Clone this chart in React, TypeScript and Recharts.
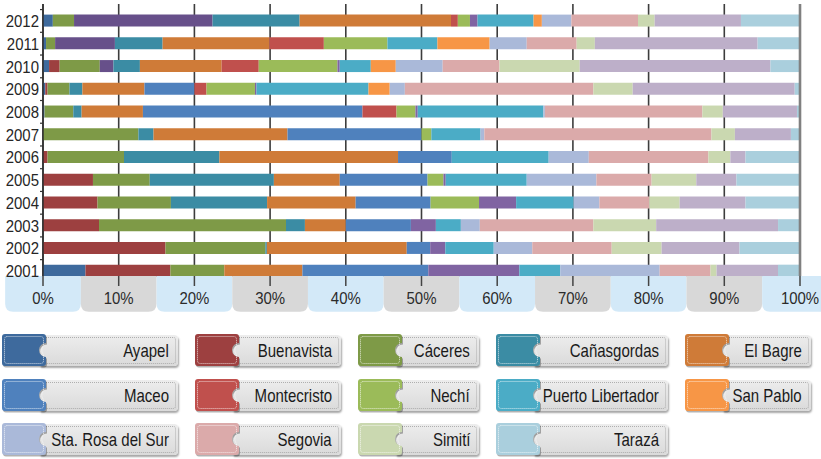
import React from 'react';
import { BarChart, Bar, XAxis, YAxis, CartesianGrid, ReferenceLine } from 'recharts';

const YEARS = ['2001', '2002', '2003', '2004', '2005', '2006', '2007', '2008', '2009', '2010', '2011', '2012'];

// share per year (2001 -> 2012)
const AYAPEL = [5.6, 0, 0, 0, 0, 0, 0, 0.2, 0.3, 0.8, 0.4, 1.3];
const BUENAVISTA = [11.2, 16.2, 7.4, 7.2, 6.6, 0.6, 0, 0, 0.3, 1.4, 0, 0];
const CACERES = [7.1, 13.2, 24.7, 9.7, 7.5, 10.1, 12.6, 3.8, 2.9, 5.3, 1.2, 2.8];
const PURPLE_DARK = [0, 0, 0, 0, 0, 0, 0, 0, 0, 1.8, 7.9, 18.3];
const CANASGORDAS = [0, 0.2, 2.5, 12.7, 16.4, 12.6, 2.0, 1.1, 1.7, 3.5, 6.3, 11.5];
const EL_BAGRE = [10.3, 18.5, 5.4, 11.7, 8.7, 23.6, 17.7, 8.1, 8.2, 10.8, 14.1, 20.0];
const MACEO = [16.6, 3.1, 8.6, 9.9, 11.6, 7.1, 17.7, 29.0, 6.6, 0, 0, 0];
const MONTECRISTO = [0, 0, 0, 0, 0, 0, 0, 4.5, 1.6, 4.9, 7.2, 0.9];
const NECHI = [0, 0, 0, 6.4, 2.1, 0, 1.3, 2.5, 6.4, 10.4, 8.4, 1.6];
const PURPLE = [12.0, 2.0, 3.3, 4.9, 0.3, 0, 0, 0.3, 0.2, 0.3, 0, 1.0];
const PUERTO_LIBERTADOR = [5.4, 6.4, 3.3, 7.6, 10.7, 12.8, 6.5, 16.6, 14.8, 4.1, 6.6, 7.4];
const SAN_PABLO = [0, 0, 0, 0, 0, 0, 0, 0, 2.8, 3.3, 6.9, 1.1];
const STA_ROSA = [13.1, 5.1, 2.5, 3.4, 9.2, 5.3, 0.5, 0.2, 2.0, 6.2, 4.9, 3.9];
const SEGOVIA = [6.7, 10.5, 15.0, 6.6, 7.3, 15.8, 30.0, 20.8, 24.9, 7.5, 6.6, 8.8];
const SIMITI = [0.8, 6.6, 8.3, 4.0, 5.9, 2.9, 3.1, 2.7, 5.2, 10.6, 2.4, 2.2];
const PURPLE_LIGHT = [8.1, 10.3, 16.1, 8.7, 5.3, 2.0, 7.4, 9.8, 21.4, 25.2, 21.5, 11.4];
const TARAZA = [2.9, 8.0, 2.9, 7.2, 8.4, 7.2, 1.2, 0.4, 0.7, 3.9, 5.6, 7.8];

const X_TICKS = [0, 0.1, 0.2, 0.3, 0.4, 0.5, 0.6, 0.7, 0.8, 0.9, 1];

// the three purple series are drawn but have no legend entry in the original
const SERIES = [
  { key: 'Ayapel', values: AYAPEL, color: '#3e6a9d', legend: true },
  { key: 'Buenavista', values: BUENAVISTA, color: '#9d4040', legend: true },
  { key: 'Cáceres', values: CACERES, color: '#7e9a47', legend: true },
  { key: 'morado1', values: PURPLE_DARK, color: '#67508a', legend: false },
  { key: 'Cañasgordas', values: CANASGORDAS, color: '#3b8ca4', legend: true },
  { key: 'El Bagre', values: EL_BAGRE, color: '#cf7b38', legend: true },
  { key: 'Maceo', values: MACEO, color: '#4f81bd', legend: true },
  { key: 'Montecristo', values: MONTECRISTO, color: '#c0504d', legend: true },
  { key: 'Nechí', values: NECHI, color: '#9bbb59', legend: true },
  { key: 'morado2', values: PURPLE, color: '#8064a2', legend: false },
  { key: 'Puerto Libertador', values: PUERTO_LIBERTADOR, color: '#4bacc6', legend: true },
  { key: 'San Pablo', values: SAN_PABLO, color: '#f79646', legend: true },
  { key: 'Sta. Rosa del Sur', values: STA_ROSA, color: '#aab9d9', legend: true },
  { key: 'Segovia', values: SEGOVIA, color: '#dbaaaa', legend: true },
  { key: 'Simití', values: SIMITI, color: '#cad8b0', legend: true },
  { key: 'morado3', values: PURPLE_LIGHT, color: '#bdafc9', legend: false },
  { key: 'Tarazá', values: TARAZA, color: '#aacfdd', legend: true },
];

const data = YEARS.map((year, i) => {
  const row: any = { year };
  SERIES.forEach(s => { row[s.key] = s.values[i]; });
  return row;
});

// no narrow font installed: squeeze Liberation Sans horizontally instead
const FONT = '"Liberation Sans", Arial, sans-serif';
const SQUEEZE = 0.88;
const LEGEND_SQUEEZE = 0.79;
const LEGEND_COLS = [176, 146, 121, 172, 126];

const YTick = ({ x, y, payload }: any) => (
  <g>
    <line x1={x - 3} x2={x} y1={y - 11.4} y2={y - 11.4} stroke="#333" strokeWidth={1.2} />
    <text
      transform={`translate(${x - 4},${y}) scale(${SQUEEZE},1)`}
      dy="0.36em" textAnchor="end" fontFamily={FONT} fontSize={17} fill="#262626"
    >
      {payload.value}
    </text>
  </g>
);

const XTick = ({ x, y, payload, index }: any) => {
  const half = 37.85;
  const top = y - 6.4;
  const bottom = y + 29.3;
  const r = 8;
  const d = `M${x - half},${top} L${x + half},${top} L${x + half},${bottom - r} Q${x + half},${bottom} ${x + half - r},${bottom} L${x - half + r},${bottom} Q${x - half},${bottom} ${x - half},${bottom - r} Z`;
  return (
    <g>
      <path d={d} fill={index % 2 === 0 ? '#d3e9f8' : '#d8d8d8'} />
      <line x1={x} x2={x} y1={top} y2={y + 3.6} stroke="#444" strokeWidth={1.5} />
      <text
        transform={`translate(${x},${y + 21.6}) scale(${SQUEEZE},1)`}
        textAnchor="middle" fontFamily={FONT} fontSize={17} fill="#2b2b2b"
      >
        {`${Math.round(payload.value * 100)}%`}
      </text>
    </g>
  );
};

// colored block with a round bite on its right edge, dotted white stitching
const tabPath = (i: number) => {
  const w = 44 - i, h = 32 - i, l = i, t = i, r = 3, n = 7 - i;
  const cy = 16;
  return `M${l + r},${t} H${w - r} Q${w},${t} ${w},${t + r} V${cy - n} ` +
    `A${n + i},${n + i} 0 0,0 ${w},${cy + n} V${h - r} Q${w},${h} ${w - r},${h} H${l + r} Q${l},${h} ${l},${h - r} V${t + r} Q${l},${t} ${l + r},${t} Z`;
};

const LegendTag = ({ label, color, width }: { label: string; color: string; width: number }) => (
  <div style={{ position: 'relative', width, height: 32 }}>
    <div style={{
      position: 'absolute', left: 38, top: 1, right: 0, height: 31,
      background: 'linear-gradient(#ededed, #dadada)', borderRadius: '0 4px 4px 0',
      boxShadow: '1px 2px 2px rgba(0,0,0,0.35)',
    }}>
      <div style={{
        position: 'absolute', left: 0, top: 2, right: 2, bottom: 2,
        borderTop: '1px dotted rgba(160,160,160,0.8)', borderBottom: '1px dotted rgba(160,160,160,0.8)',
        borderRight: '1px dotted rgba(160,160,160,0.8)', borderRadius: '0 3px 3px 0',
      }} />
      <div style={{
        position: 'absolute', right: 9, top: 0, lineHeight: '31px', fontFamily: FONT,
        fontSize: 19, color: '#1a1a1a', whiteSpace: 'nowrap',
        transform: `scaleX(${LEGEND_SQUEEZE})`, transformOrigin: 'right center',
      }}>
        {label}
      </div>
    </div>
    <svg width={46} height={34} style={{ position: 'absolute', left: 0, top: 0, overflow: 'visible' }}>
      <path d={tabPath(0)} fill="rgba(0,0,0,0.3)" transform="translate(1,1.5)" />
      <path d={tabPath(0)} fill={color} />
      <path d={tabPath(2.5)} fill="none" stroke="rgba(255,255,255,0.75)" strokeWidth={1} strokeDasharray="1 1" />
    </svg>
  </div>
);

export default function App() {
  const legendItems = SERIES.filter(s => s.legend);
  return (
    <div style={{ position: 'absolute', left: 0, top: 0, width: 821, height: 459, background: '#fff', overflow: 'hidden' }}>
      <BarChart
        width={821}
        height={320}
        data={data}
        layout="vertical"
        stackOffset="expand"
        margin={{ top: 4, right: 21, bottom: 7.6, left: 0 }}
      >
        <CartesianGrid vertical horizontal={false} stroke="#3d3d3d" strokeWidth={1.6} />
        <XAxis
          type="number"
          domain={[0, 1]}
          ticks={X_TICKS}
          interval={0}
          height={30}
          tickSize={0}
          tickMargin={0}
          tickLine={false}
          axisLine={false}
          tick={<XTick />}
        />
        <YAxis
          type="category"
          dataKey="year"
          reversed
          width={43}
          interval={0}
          tickSize={0}
          tickMargin={0}
          tickLine={false}
          axisLine={{ stroke: '#2b2b2b', strokeWidth: 1.4 }}
          padding={{ top: 5.6, bottom: 0 }}
          tick={<YTick />}
        />
        <ReferenceLine x={1} stroke="#808080" strokeWidth={2.6} />
        {SERIES.map(s => (
          <Bar key={s.key} dataKey={s.key} stackId="a" fill={s.color} barSize={12} isAnimationActive={false} />
        ))}
      </BarChart>
      <div style={{
        position: 'absolute', left: 2, top: 334, display: 'grid',
        gridTemplateColumns: LEGEND_COLS.map(w => `${w}px`).join(' '),
        columnGap: 17, rowGap: 12.5,
      }}>
        {legendItems.map((s, i) => (
          <LegendTag key={s.key} label={s.key} color={s.color} width={LEGEND_COLS[i % 5]} />
        ))}
      </div>
    </div>
  );
}
